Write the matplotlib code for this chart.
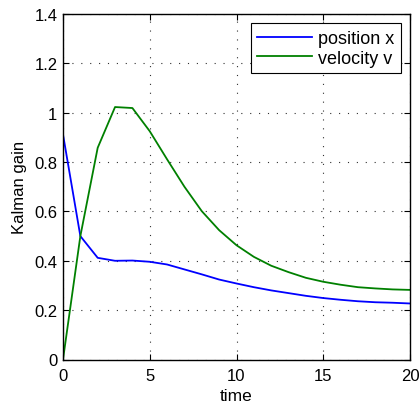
import matplotlib
matplotlib.use("Agg")
import matplotlib.pyplot as plt
import numpy as np

plt.rcParams['font.family'] = ['Liberation Sans', 'DejaVu Sans']

# Kalman gains, one value per time step
time = np.arange(0, 21)
gain_x = [0.912, 0.50, 0.412, 0.400, 0.401, 0.396, 0.385, 0.365, 0.345, 0.324,
          0.308, 0.293, 0.280, 0.269, 0.258, 0.249, 0.242, 0.236, 0.232, 0.230, 0.227]
gain_v = [0.0, 0.50, 0.858, 1.023, 1.019, 0.925, 0.811, 0.700, 0.601, 0.524,
          0.463, 0.416, 0.380, 0.354, 0.331, 0.315, 0.303, 0.293, 0.288, 0.284, 0.282]

fig = plt.figure(figsize=(4.2, 4.06), dpi=100)
ax = fig.add_axes([63/420, 1 - 360.5/406, 347/420, 345.5/406])

ax.plot(time, gain_x, color=(0, 0, 1), lw=1.3, label='position x')
ax.plot(time, gain_v, color=(0, 0.5, 0), lw=1.3, label='velocity v')

ax.set_xlim(0, 20)
ax.set_ylim(0, 1.4)
ax.set_xticks([0, 5, 10, 15, 20])
ax.set_yticks([0, 0.2, 0.4, 0.6, 0.8, 1.0, 1.2, 1.4])
ax.set_yticklabels(['0', '0.2', '0.4', '0.6', '0.8', '1', '1.2', '1.4'])
ax.tick_params(direction='in', top=True, right=True, labelsize=12, length=4, width=0.8, pad=4)
ax.tick_params(axis='x', pad=6)
ax.grid(True, color='#303030', linestyle=(0, (1, 7)), linewidth=0.8)
for s in ax.spines.values():
    s.set_linewidth(1.0)

ax.set_xlabel('time', fontsize=12.5, labelpad=4)
ax.set_ylabel('Kalman gain', fontsize=12, labelpad=5)

leg = ax.legend(loc='upper right', fontsize=13, fancybox=False, framealpha=1,
                edgecolor='black', handlelength=3.05, borderpad=0.38,
                labelspacing=0.15, handletextpad=0.3, borderaxespad=0.5)
leg.get_frame().set_linewidth(0.8)

fig.savefig('out.png', dpi=100)
